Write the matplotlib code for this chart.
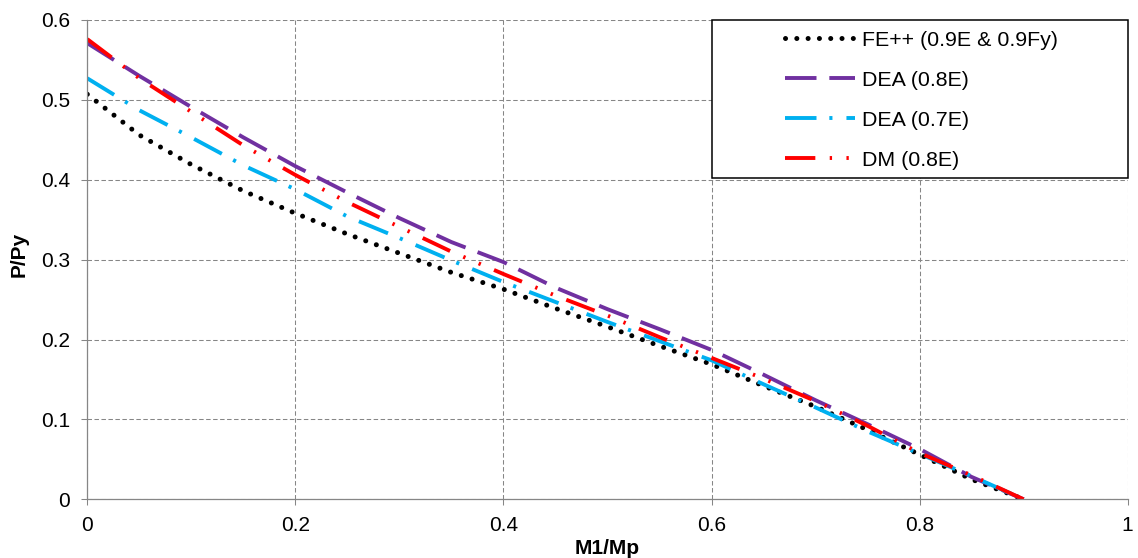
import numpy as np
import matplotlib
matplotlib.use("Agg")
import matplotlib.pyplot as plt
from matplotlib.patches import Rectangle

plt.rcParams['font.family'] = ['Liberation Sans', 'DejaVu Sans']

# M1/Mp positions where the curves were sampled
m1_mp = [0.0, 0.05, 0.1, 0.15, 0.2, 0.25, 0.3, 0.35, 0.4, 0.45,
         0.5, 0.55, 0.6, 0.65, 0.7, 0.75, 0.8, 0.85, 0.9]

# P/Py for each method
fe_09 = [0.507, 0.456, 0.419, 0.386, 0.358, 0.332, 0.308, 0.284, 0.263, 0.239,
         0.216, 0.192, 0.169, 0.142, 0.116, 0.087, 0.056, 0.025, 0.0]
dea_08 = [0.571, 0.530, 0.491, 0.453, 0.417, 0.384, 0.352, 0.322, 0.297, 0.265,
          0.238, 0.213, 0.187, 0.156, 0.124, 0.094, 0.063, 0.028, 0.0]
dea_07 = [0.527, 0.487, 0.453, 0.418, 0.388, 0.354, 0.327, 0.299, 0.272, 0.247,
          0.222, 0.198, 0.174, 0.144, 0.115, 0.085, 0.057, 0.029, 0.0]
dm_08 = [0.576, 0.527, 0.485, 0.443, 0.406, 0.372, 0.341, 0.310, 0.282, 0.255,
         0.230, 0.203, 0.177, 0.151, 0.123, 0.092, 0.058, 0.030, 0.0]

labels = ['FE++ (0.9E & 0.9Fy)', 'DEA (0.8E)', 'DEA (0.7E)', 'DM (0.8E)']

x_ticks = [0, 0.2, 0.4, 0.6, 0.8, 1.0]
x_tick_labels = ['0', '0.2', '0.4', '0.6', '0.8', '1']
y_ticks = [0, 0.1, 0.2, 0.3, 0.4, 0.5, 0.6]
y_tick_labels = ['0', '0.1', '0.2', '0.3', '0.4', '0.5', '0.6']

fig = plt.figure(figsize=(11.38, 5.58), dpi=100)
ax = fig.add_axes([0.0767, 0.1052, 0.9142, 0.8590])

lw = 2.8
ax.plot(m1_mp, fe_09, color='black', lw=3.6, linestyle=(0, (0.01, 2.25)),
        dash_capstyle='round', label=labels[0])
ax.plot(m1_mp, dea_08, color='#7030A0', lw=lw, linestyle=(0, (8.1, 3.3)),
        label=labels[1])
ax.plot(m1_mp, dea_07, color='#00B0F0', lw=lw, linestyle=(0, (8.1, 3.3, 0.8, 3.6)),
        label=labels[2])
ax.plot(m1_mp, dm_08, color='#FF0000', lw=lw,
        linestyle=(0, (7.8, 3.7, 0.6, 3.7, 0.6, 3.7)), label=labels[3])

ax.set_xlim(0, 1)
ax.set_ylim(0, 0.6)
ax.set_xticks(x_ticks)
ax.set_xticklabels(x_tick_labels)
ax.set_yticks(y_ticks)
ax.set_yticklabels(y_tick_labels)
ax.tick_params(axis='both', direction='out', length=4.2, width=0.75,
               color='#868686', labelsize=15, pad=8.0)

ax.grid(True, color='#868686', lw=0.75, linestyle=(0, (4.3, 2.4)))
ax.set_axisbelow(True)
for side in ['top', 'right']:
    ax.spines[side].set_visible(False)
for side in ['left', 'bottom']:
    ax.spines[side].set_color('#868686')
    ax.spines[side].set_linewidth(0.9)

ax.set_xlabel('M1/Mp', fontsize=15, fontweight='bold')
ax.xaxis.set_label_coords(0.5, -0.1135)
ax.xaxis.label.set_verticalalignment('baseline')
ax.set_ylabel('P/Py', fontsize=15, fontweight='bold')
ax.yaxis.set_label_coords(-0.0605, 0.51)
ax.yaxis.label.set_verticalalignment('baseline')

# legend box spans the upper right of the plot area
ax.add_patch(Rectangle((0.600, 0.670), 0.4003, 0.330, transform=ax.transAxes,
                       facecolor='white', edgecolor='black', lw=1.1,
                       zorder=5, clip_on=False))
leg = ax.legend(loc='center', bbox_to_anchor=(0.8015, 0.8327), frameon=False,
                fontsize=15.4, handlelength=3.27, handletextpad=0.33,
                labelspacing=0.98, borderpad=0)
leg.set_zorder(6)

fig.savefig('out.png', dpi=100)
